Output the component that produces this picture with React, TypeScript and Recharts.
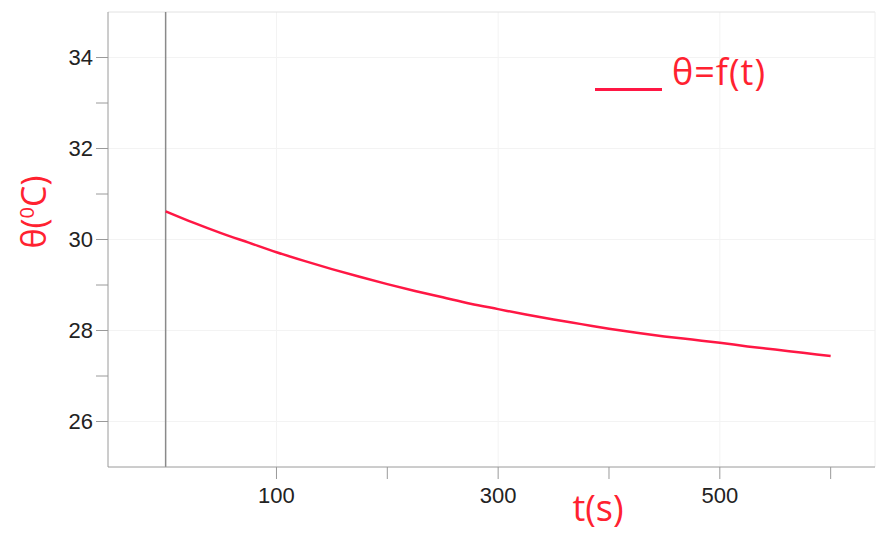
import { LineChart, Line, XAxis, YAxis, CartesianGrid, ReferenceLine } from 'recharts';

// time (s) and temperature (°C)
const times = [0, 25, 50, 75, 100, 125, 150, 175, 200, 225, 250, 275, 300, 325, 350, 375, 400, 425, 450, 475, 500, 525, 550, 575, 600];
const temps = [30.62, 30.37, 30.14, 29.93, 29.72, 29.53, 29.35, 29.18, 29.02, 28.87, 28.73, 28.59, 28.47, 28.35, 28.24, 28.14, 28.04, 27.95, 27.87, 27.8, 27.73, 27.65, 27.58, 27.51, 27.44];

const xTicks = [100, 200, 300, 400, 500, 600];
const xLabelled = [100, 300, 500];
const yTicks = [26, 27, 28, 29, 30, 31, 32, 33, 34];
const yLabelled = [26, 28, 30, 32, 34];

const data = times.map((t, i) => ({ t, theta: temps[i] }));

const RED = '#ff1744';
const TEXT_RED = '#ff2230';
const AXIS = '#9a9a9a';
const TICK_FONT = { fill: '#222', fontSize: 22, fontFamily: '"Liberation Sans", Arial, sans-serif' };

export default function App() {
  return (
    <div style={{ position: 'absolute', left: 0, top: 0, width: 882, height: 533, background: '#fff' }}>
      <LineChart width={882} height={533} data={data} margin={{ top: 12, right: 7, left: 0, bottom: 0 }}>
        <CartesianGrid stroke="#f3f3f3" horizontalValues={yLabelled} verticalValues={xLabelled} />
        <XAxis
          type="number"
          dataKey="t"
          domain={[-52, 640]}
          allowDataOverflow
          ticks={xTicks}
          tickFormatter={(v) => (xLabelled.includes(v) ? String(v) : '')}
          height={66}
          stroke={AXIS}
          tickSize={12}
          tickMargin={8}
          tick={TICK_FONT}
        />
        <YAxis
          type="number"
          domain={[25, 35]}
          allowDataOverflow
          ticks={yTicks}
          tickFormatter={(v) => (yLabelled.includes(v) ? String(v) : '')}
          width={108}
          stroke={AXIS}
          tickSize={12}
          tickMargin={3}
          tick={TICK_FONT}
        />
        <ReferenceLine y={35} stroke="#e2e2e2" />
        <ReferenceLine x={640} stroke="#eeeeee" />
        <ReferenceLine x={0} stroke="#8a8a8a" strokeWidth={1.5} />
        <Line
          type="monotone"
          dataKey="theta"
          stroke={RED}
          strokeWidth={2.5}
          dot={false}
          activeDot={false}
          isAnimationActive={false}
        />
        <text
          x={46}
          y={212}
          transform="rotate(-90 46 212)"
          textAnchor="middle"
          fill={TEXT_RED}
          fontSize={34}
          fontFamily='"Open Sans", sans-serif'
        >
          θ(<tspan fontSize={20} dy={-12}>0</tspan><tspan dy={12}>C)</tspan>
        </text>
        <text x={598} y={521} textAnchor="middle" fill={TEXT_RED} fontSize={36} fontFamily='"Open Sans", sans-serif'>
          t(s)
        </text>
      </LineChart>
      <div
        style={{
          position: 'absolute',
          left: 595,
          top: 50,
          display: 'flex',
          alignItems: 'flex-end',
          fontFamily: '"Open Sans", sans-serif',
          color: TEXT_RED,
        }}
      >
        <div style={{ width: 67, height: 3, background: RED, marginRight: 10, marginBottom: 3 }} />
        <span style={{ fontSize: 36, lineHeight: '44px', letterSpacing: 1 }}>θ=f(t)</span>
      </div>
    </div>
  );
}
